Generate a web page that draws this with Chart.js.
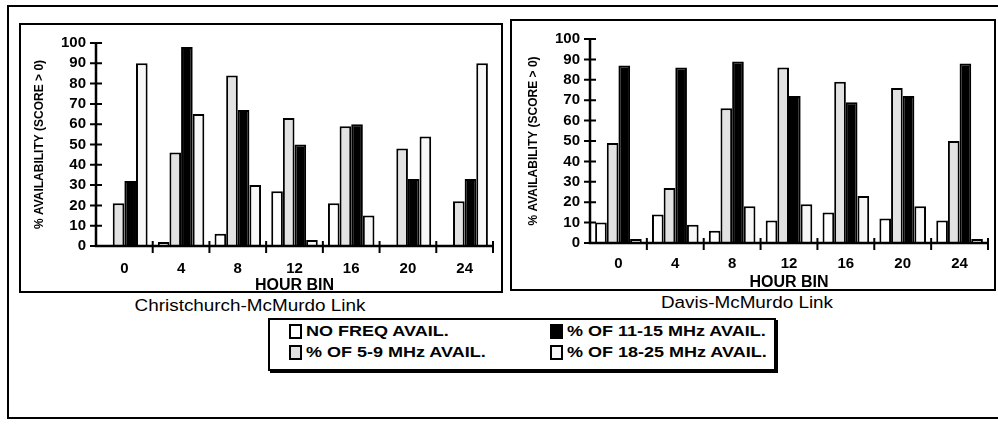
<!DOCTYPE html>
<html lang="en">
<head>
  <meta charset="UTF-8">
  <title>HF availability by hour bin</title>
  <script src="https://cdn.jsdelivr.net/npm/chart.js"></script>
  <style>
    body { margin: 0; width: 998px; height: 425px; overflow: hidden; background: #fff; position: relative;
           font-family: 'Liberation Sans', Arial, sans-serif; color: #000; }
    .line { position: absolute; border: 2px solid #000; box-sizing: border-box; }
    .chart { position: absolute; }
    .caption { position: absolute; font-size: 16px; text-align: center; white-space: nowrap; transform: scaleX(1.18); }
    #legend { position: absolute; left: 268px; top: 318px; width: 508px; height: 53px; box-sizing: border-box;
              border: 2px solid #000; box-shadow: 2px 2px 0 #000; background: #fff; }
    .item { position: absolute; font-weight: bold; font-size: 15px; white-space: nowrap; line-height: 16px; }
    .item span.t { display: inline-block; transform: scaleX(1.2); transform-origin: left center; }
    .sw { position: absolute; left: -17px; top: 1px; width: 9px; height: 11px; border: 2px solid #000; }
  </style>
</head>
<body>
  <div class="line" style="left:7px; top:5px; width:1000px; height:414px;"></div>

  <canvas id="chcChart" class="chart" width="482" height="271" style="left:20px; top:24px;"></canvas>
  <canvas id="davChart" class="chart" width="484" height="272" style="left:511px; top:20px;"></canvas>
  <div class="line" style="left:19px; top:23px; width:484px; height:270px;"></div>
  <div class="line" style="left:510px; top:19px; width:486px; height:272px;"></div>

  <div class="caption" style="left:150px; width:200px; top:297px;">Christchurch-McMurdo Link</div>
  <div class="caption" style="left:647px; width:200px; top:294px;">Davis-McMurdo Link</div>

  <div id="legend"></div>

  <script>
    const hours = ['0', '4', '8', '12', '16', '20', '24'];
    const yTicks = [0, 10, 20, 30, 40, 50, 60, 70, 80, 90, 100];
    const seriesLabels = ['NO FREQ AVAIL.', '% OF 5-9 MHz AVAIL.', '% OF 11-15 MHz AVAIL.', '% OF 18-25 MHz AVAIL.'];
    const seriesFills = ['#ffffff', '#e2e2e2', '#000000', '#f7f7f7'];

    // Christchurch-McMurdo link
    const chcNoFreq = [0, 2, 6, 27, 21, 0, 0];
    const chc5to9 = [21, 46, 84, 63, 59, 48, 22];
    const chc11to15 = [32, 98, 67, 50, 60, 33, 33];
    const chc18to25 = [90, 65, 30, 3, 15, 54, 90];

    // Davis-McMurdo link
    const davNoFreq = [10, 14, 6, 11, 15, 12, 11];
    const dav5to9 = [49, 27, 66, 86, 79, 76, 50];
    const dav11to15 = [87, 86, 89, 72, 69, 72, 88];
    const dav18to25 = [2, 9, 18, 19, 23, 18, 2];

    // axis lines and ticks that cross the axis, like the original
    const axisMarks = {
      id: 'axisMarks',
      afterDatasetsDraw(chart) {
        const { ctx, chartArea: a, scales: { x, y } } = chart;
        ctx.save();
        ctx.strokeStyle = '#000';
        ctx.lineWidth = 2.5;
        ctx.beginPath();
        ctx.moveTo(a.left, a.top);
        ctx.lineTo(a.left, a.bottom);
        ctx.lineTo(a.right, a.bottom);
        ctx.stroke();
        ctx.lineWidth = 2;
        ctx.beginPath();
        yTicks.forEach(v => {
          const py = y.getPixelForValue(v);
          ctx.moveTo(a.left - 6, py);
          ctx.lineTo(a.left + 6, py);
        });
        for (let i = 1; i <= hours.length; i++) {
          const px = x.getPixelForValue(i - 0.5);
          ctx.moveTo(px, a.bottom - 5);
          ctx.lineTo(px, a.bottom + 7);
        }
        ctx.stroke();
        ctx.restore();
      }
    };

    function makeChart(id, series, box) {
      new Chart(document.getElementById(id), {
        type: 'bar',
        data: {
          labels: hours,
          datasets: series.map((d, i) => ({
            label: seriesLabels[i],
            data: d,
            backgroundColor: seriesFills[i],
            borderColor: '#000',
            borderWidth: 2
          }))
        },
        options: {
          responsive: false,
          animation: false,
          layout: { padding: { top: box.padTop, right: box.padRight, left: 0, bottom: 0 } },
          plugins: { legend: { display: false }, tooltip: { enabled: false } },
          categoryPercentage: 0.82,
          barPercentage: 1.0,
          scales: {
            x: {
              grid: { display: false, drawTicks: false },
              border: { display: false },
              ticks: { color: '#000', font: { family: 'Liberation Sans', size: 15, weight: 'bold' }, padding: box.xPad },
              title: { display: true, text: 'HOUR BIN', color: '#000',
                       font: { family: 'Liberation Sans', size: 16, weight: 'bold' }, padding: { top: 0, bottom: 0 } },
              afterFit: s => { s.height = box.xHeight; }
            },
            y: {
              min: 0,
              max: 100,
              grid: { display: false, drawTicks: false },
              border: { display: false },
              afterBuildTicks: s => { s.ticks = yTicks.map(v => ({ value: v })); },
              ticks: { color: '#000', autoSkip: false, font: { family: 'Liberation Sans', size: 15, weight: 'bold' }, padding: 10 },
              title: { display: true, text: '% AVAILABILITY (SCORE > 0)', color: '#000',
                       font: { family: 'Liberation Sans', size: 12, weight: 'bold' }, padding: { top: box.yTitlePad, bottom: 0 } },
              afterFit: s => { s.width = box.yWidth; }
            }
          }
        },
        plugins: [axisMarks]
      });
    }

    makeChart('chcChart', [chcNoFreq, chc5to9, chc11to15, chc18to25],
      { padTop: 15, padRight: 9, yWidth: 76, xHeight: 49, xPad: 14, yTitlePad: 12 });
    makeChart('davChart', [davNoFreq, dav5to9, dav11to15, dav18to25],
      { padTop: 16, padRight: 7, yWidth: 79, xHeight: 49, xPad: 12, yTitlePad: 15 });

    // legend: two columns, items in the original order
    const legendPos = [[36, 3], [36, 24], [297, 3], [297, 24]];
    const legend = document.getElementById('legend');
    seriesLabels.forEach((label, k) => {
      const item = document.createElement('div');
      item.className = 'item';
      item.style.left = legendPos[k][0] + 'px';
      item.style.top = legendPos[k][1] + 'px';
      const sw = document.createElement('span');
      sw.className = 'sw';
      sw.style.background = seriesFills[k];
      const t = document.createElement('span');
      t.className = 't';
      t.textContent = label;
      item.appendChild(sw);
      item.appendChild(t);
      legend.appendChild(item);
    });
  </script>
</body>
</html>
